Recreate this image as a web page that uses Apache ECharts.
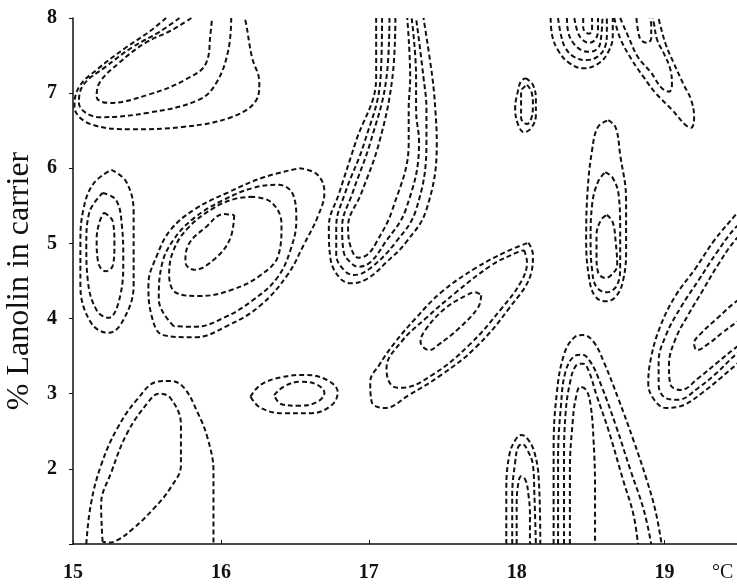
<!DOCTYPE html>
<html>
<head>
<meta charset="utf-8">
<script src="https://cdn.jsdelivr.net/npm/echarts@6/dist/echarts.min.js"></script>
<style>
  html, body { margin: 0; padding: 0; background: #ffffff; }
  #chart { width: 737px; height: 585px; }
</style>
</head>
<body>
<div id="chart"></div>
<script>
// Axis ticks
const tempTicks = [15, 16, 17, 18, 19];
const lanolinTicks = [2, 3, 4, 5, 6, 7, 8];

// Contour lines: [temperature °C, % lanolin]
// Upper-left nested loops (open at the top edge)
const ulOuter = [[15.63,8.0],[15.51,7.81],[15.36,7.61],[15.16,7.31],[15.04,7.08],[15.01,6.82],[15.13,6.58],[15.40,6.52],[15.74,6.55],[16.07,6.68],[16.24,6.91],[16.26,7.14],[16.21,7.48],[16.17,7.93],[16.16,8.0]];
const ulMiddle = [[15.72,8.0],[15.58,7.81],[15.40,7.61],[15.22,7.35],[15.07,7.11],[15.04,6.87],[15.18,6.68],[15.51,6.74],[15.85,6.91],[15.97,7.14],[16.05,7.57],[16.07,8.0]];
const ulInner = [[15.80,8.0],[15.67,7.84],[15.49,7.67],[15.31,7.40],[15.18,7.14],[15.16,6.95],[15.24,6.87],[15.51,6.98],[15.76,7.18],[15.90,7.40],[15.93,7.80],[15.94,8.0]];

// Left upright ellipses
const leftOuter = [[15.26,5.98],[15.36,5.82],[15.41,5.41],[15.41,4.91],[15.41,4.45],[15.34,3.98],[15.24,3.81],[15.12,3.95],[15.05,4.45],[15.05,4.98],[15.07,5.45],[15.14,5.80]];
const leftMiddle = [[15.20,5.67],[15.29,5.58],[15.33,5.25],[15.34,4.78],[15.32,4.31],[15.24,4.01],[15.16,4.11],[15.10,4.51],[15.09,4.98],[15.11,5.41]];
const leftInner = [[15.21,5.41],[15.27,5.29],[15.28,4.98],[15.27,4.71],[15.22,4.63],[15.17,4.75],[15.16,5.05],[15.18,5.29]];

// Tilted rings around 16 °C / 5 %
const midRing1 = [[16.53,6.00],[16.65,5.92],[16.70,5.68],[16.66,5.38],[16.56,4.98],[16.45,4.58],[16.27,4.18],[16.05,3.91],[15.82,3.75],[15.61,3.78],[15.53,4.05],[15.51,4.45],[15.57,4.85],[15.66,5.18],[15.82,5.45],[16.05,5.68],[16.29,5.88]];
const midRing2 = [[15.68,3.90],[15.58,4.25],[15.60,4.71],[15.68,5.05],[15.82,5.34],[16.02,5.58],[16.22,5.74],[16.39,5.78],[16.49,5.64],[16.51,5.31],[16.47,4.91],[16.38,4.54],[16.22,4.25],[16.02,4.01],[15.82,3.89]];
const midRing3 = [[16.20,5.62],[16.34,5.55],[16.41,5.25],[16.39,4.85],[16.27,4.58],[16.07,4.38],[15.85,4.30],[15.70,4.34],[15.65,4.58],[15.68,4.91],[15.78,5.21],[15.95,5.47],[16.09,5.59]];
const midRing4 = [[16.09,5.38],[16.06,5.05],[15.95,4.78],[15.82,4.65],[15.76,4.75],[15.78,4.98],[15.90,5.22],[16.02,5.39]];

// Curved band rising from 17 °C to the top edge
const bandD1 = [[17.05,8.0],[17.05,7.21],[16.91,6.34],[16.80,5.67],[16.73,5.22],[16.74,4.81],[16.80,4.55],[16.88,4.47],[16.99,4.53],[17.12,4.75],[17.25,5.01],[17.39,5.45],[17.46,6.34],[17.45,6.78],[17.43,7.21],[17.37,8.0]];
const bandD2 = [[17.09,8.0],[17.08,7.21],[16.97,6.34],[16.84,5.67],[16.78,5.22],[16.78,4.85],[16.83,4.65],[16.90,4.58],[17.01,4.67],[17.18,5.01],[17.32,5.45],[17.39,6.34],[17.39,6.78],[17.37,7.21],[17.32,8.0]];
const bandD3 = [[17.14,8.0],[17.12,7.21],[17.01,6.34],[16.89,5.67],[16.82,5.22],[16.83,4.89],[16.88,4.74],[16.93,4.69],[17.01,4.75],[17.11,5.01],[17.25,5.45],[17.34,6.34],[17.32,6.78],[17.32,7.21],[17.29,8.0]];
const bandD4 = [[17.18,8.0],[17.16,7.21],[17.07,6.34],[16.95,5.67],[16.86,5.22],[16.88,4.94],[16.93,4.81],[16.99,4.85],[17.05,5.01],[17.16,5.45],[17.27,6.34],[17.27,6.78],[17.28,7.21],[17.26,8.0]];

// Small ellipses near 18 °C / 7 %
const smallOuter = [[18.06,7.20],[18.11,7.11],[18.13,6.91],[18.13,6.71],[18.10,6.54],[18.05,6.48],[18.01,6.58],[17.99,6.80],[18.01,7.04],[18.03,7.16]];
const smallInner = [[18.07,7.11],[18.10,7.02],[18.11,6.84],[18.10,6.67],[18.07,6.59],[18.03,6.67],[18.03,6.84],[18.03,7.02]];

// Bowl of rings at the top edge, 18.2–18.7 °C
const bowl1 = [[18.23,8.0],[18.24,7.77],[18.28,7.57],[18.35,7.41],[18.45,7.33],[18.55,7.39],[18.62,7.55],[18.65,7.77],[18.65,8.0]];
const bowl2 = [[18.28,8.0],[18.30,7.77],[18.33,7.60],[18.39,7.48],[18.47,7.44],[18.55,7.49],[18.60,7.63],[18.61,7.81],[18.61,8.0]];
const bowl3 = [[18.34,8.0],[18.35,7.80],[18.39,7.65],[18.44,7.57],[18.49,7.55],[18.55,7.60],[18.57,7.73],[18.58,8.0]];
const bowl4 = [[18.39,8.0],[18.41,7.83],[18.44,7.72],[18.49,7.67],[18.53,7.71],[18.55,7.83],[18.55,8.0]];
const bowl5 = [[18.45,8.0],[18.45,7.87],[18.49,7.79],[18.51,7.84],[18.51,8.0]];

// Hooks descending to the right of the bowl
const hookF1 = [[18.66,8.0],[18.70,7.73],[18.78,7.44],[18.86,7.21],[18.94,7.00],[19.05,6.78],[19.14,6.58],[19.18,6.54],[19.20,6.67],[19.18,6.91],[19.13,7.11],[19.06,7.41],[19.01,7.64],[18.97,7.91],[18.96,8.0]];
const hookF2 = [[18.70,8.0],[18.76,7.73],[18.82,7.48],[18.91,7.27],[18.98,7.07],[19.03,7.02],[19.05,7.11],[19.04,7.31],[19.00,7.51],[18.95,7.71],[18.93,7.91],[18.92,8.0]];
const hookF3 = [[18.81,8.0],[18.82,7.84],[18.84,7.71],[18.88,7.67],[18.91,7.73],[18.91,7.91],[18.90,8.0]];

// Upright ellipses near 18.6 °C / 5 %
const uprightH1 = [[18.62,6.64],[18.67,6.54],[18.70,6.18],[18.74,5.58],[18.74,4.91],[18.72,4.51],[18.67,4.29],[18.60,4.23],[18.53,4.30],[18.49,4.54],[18.47,5.05],[18.48,5.71],[18.51,6.24],[18.55,6.55]];
const uprightH2 = [[18.60,5.95],[18.65,5.87],[18.69,5.64],[18.70,5.18],[18.70,4.71],[18.68,4.45],[18.61,4.35],[18.54,4.42],[18.51,4.65],[18.50,5.05],[18.51,5.51],[18.55,5.82]];
const uprightH3 = [[18.61,5.38],[18.65,5.28],[18.67,5.01],[18.68,4.71],[18.64,4.58],[18.60,4.54],[18.55,4.62],[18.54,4.85],[18.54,5.11],[18.57,5.31]];

// Band entering from the right edge
const rightI1 = [[19.55,5.55],[19.48,5.38],[19.34,5.05],[19.21,4.67],[19.07,4.29],[18.97,3.89],[18.91,3.49],[18.89,3.14],[18.93,2.92],[19.01,2.81],[19.13,2.85],[19.26,3.02],[19.38,3.21],[19.48,3.38],[19.55,3.50]];
const rightI2 = [[19.55,5.30],[19.48,5.21],[19.35,4.87],[19.23,4.51],[19.11,4.15],[19.01,3.78],[18.96,3.42],[18.96,3.12],[19.01,2.94],[19.09,2.92],[19.23,3.08],[19.36,3.29],[19.48,3.52],[19.55,3.62]];
const rightI3 = [[19.55,5.15],[19.48,5.05],[19.36,4.71],[19.26,4.38],[19.16,4.05],[19.07,3.71],[19.03,3.38],[19.04,3.12],[19.11,3.05],[19.23,3.21],[19.36,3.42],[19.48,3.61],[19.55,3.70]];
const rightI4 = [[19.55,4.30],[19.48,4.22],[19.36,4.01],[19.25,3.81],[19.20,3.67],[19.22,3.58],[19.30,3.67],[19.39,3.81],[19.48,3.94],[19.55,4.03]];

// Diagonal ellipses between 17 and 18 °C
const diagJ1 = [[18.08,5.01],[18.11,4.85],[18.10,4.62],[17.95,4.14],[17.72,3.61],[17.49,3.25],[17.27,2.98],[17.11,2.81],[17.02,2.89],[17.01,3.16],[17.07,3.38],[17.18,3.69],[17.32,4.01],[17.49,4.35],[17.72,4.67],[17.93,4.89]];
const diagJ2 = [[18.05,4.91],[18.07,4.75],[18.03,4.49],[17.90,4.14],[17.68,3.65],[17.43,3.25],[17.22,3.08],[17.15,3.12],[17.12,3.34],[17.22,3.69],[17.39,4.01],[17.59,4.35],[17.83,4.71],[17.99,4.87]];
const diagJ3 = [[17.76,4.31],[17.74,4.15],[17.61,3.87],[17.47,3.65],[17.41,3.58],[17.35,3.69],[17.39,3.87],[17.52,4.14],[17.66,4.31],[17.72,4.35]];

// Flat ellipses near 16.5 °C / 3 %
const flatK1 = [[16.20,2.96],[16.27,3.12],[16.41,3.22],[16.57,3.25],[16.72,3.18],[16.79,3.02],[16.75,2.85],[16.61,2.74],[16.43,2.74],[16.27,2.81]];
const flatK2 = [[16.36,2.98],[16.43,3.10],[16.54,3.16],[16.65,3.12],[16.70,3.01],[16.65,2.89],[16.53,2.84],[16.41,2.86]];

// Lower-left arch and loop
const lowLeftArch = [[15.09,1.0],[15.12,1.52],[15.19,2.05],[15.30,2.54],[15.44,2.94],[15.57,3.16],[15.66,3.17],[15.75,3.08],[15.84,2.76],[15.91,2.41],[15.95,1.96],[15.95,1.0]];
const lowLeftLoop = [[15.20,1.03],[15.19,1.52],[15.26,1.96],[15.37,2.49],[15.51,2.89],[15.58,3.00],[15.66,2.94],[15.73,2.58],[15.73,2.05],[15.66,1.75],[15.55,1.48],[15.41,1.21],[15.30,1.05],[15.24,1.02]];

// Narrow arches rising from the base at 18 °C
const archM1 = [[17.93,1.0],[17.93,1.72],[17.95,2.18],[17.99,2.38],[18.03,2.45],[18.07,2.41],[18.12,2.22],[18.15,1.85],[18.16,1.0]];
const archM2 = [[17.97,1.0],[17.97,1.65],[17.99,2.09],[18.01,2.29],[18.04,2.33],[18.07,2.26],[18.11,2.05],[18.12,1.65],[18.13,1.0]];
const archM3 = [[18.00,1.0],[18.00,1.52],[18.01,1.79],[18.03,1.90],[18.06,1.85],[18.08,1.65],[18.09,1.39],[18.09,1.0]];

// Tall arches between 18.2 and 19 °C
const archN1 = [[18.25,1.0],[18.25,2.25],[18.27,2.98],[18.32,3.52],[18.39,3.75],[18.45,3.78],[18.52,3.69],[18.59,3.42],[18.69,2.92],[18.79,2.38],[18.88,1.85],[18.94,1.43],[18.98,1.0]];
const archN2 = [[18.28,1.0],[18.28,2.12],[18.30,2.85],[18.33,3.29],[18.39,3.50],[18.44,3.52],[18.50,3.42],[18.57,3.12],[18.67,2.58],[18.77,1.98],[18.86,1.45],[18.91,1.0]];
const archN3 = [[18.32,1.0],[18.32,2.05],[18.33,2.72],[18.36,3.14],[18.40,3.37],[18.45,3.40],[18.49,3.29],[18.54,2.98],[18.62,2.52],[18.72,1.85],[18.79,1.39],[18.82,1.0]];
const archN4 = [[18.36,1.0],[18.36,1.98],[18.38,2.65],[18.40,2.94],[18.43,3.09],[18.47,3.05],[18.50,2.85],[18.52,2.38],[18.53,1.72],[18.53,1.0]];

const closedLoops = [leftOuter, leftMiddle, leftInner, midRing1, midRing2, midRing3, midRing4,
  smallOuter, smallInner, uprightH1, uprightH2, uprightH3, diagJ1, diagJ2, diagJ3, flatK1, flatK2, lowLeftLoop];
const openCurves = [ulOuter, ulMiddle, ulInner, bandD1, bandD2, bandD3, bandD4,
  bowl1, bowl2, bowl3, bowl4, bowl5, hookF1, hookF2, hookF3,
  rightI1, rightI2, rightI3, rightI4, lowLeftArch,
  archM1, archM2, archM3, archN1, archN2, archN3, archN4];

const ink = '#111111';
const serif = '"Liberation Serif", "Times New Roman", serif';

function contourSeries(points, closed) {
  return {
    type: 'line',
    data: closed ? points.concat([points[0]]) : points,
    smooth: 0.4,
    symbol: 'none',
    silent: true,
    clip: true,
    lineStyle: { color: ink, width: 2, type: [5, 3] }
  };
}

const series = closedLoops.map(p => contourSeries(p, true))
  .concat(openCurves.map(p => contourSeries(p, false)));

const chart = echarts.init(document.getElementById('chart'), null, { renderer: 'canvas' });
chart.setOption({
  animation: false,
  backgroundColor: '#ffffff',
  grid: { left: 73, right: 0, top: 18, bottom: 41, containLabel: false, outerBoundsMode: 'none' },
  xAxis: {
    type: 'value',
    min: tempTicks[0],
    max: 19.49,
    interval: 1,
    splitLine: { show: false },
    axisLine: { show: true, onZero: false, lineStyle: { color: ink, width: 1.5 } },
    axisTick: { show: true, inside: true, length: 4, lineStyle: { color: ink } },
    axisLabel: {
      margin: 19,
      color: ink,
      fontFamily: serif,
      fontSize: 20,
      fontWeight: 'bold',
      formatter: v => tempTicks.includes(v) ? String(v) : ''
    }
  },
  yAxis: {
    type: 'value',
    min: 1,
    max: lanolinTicks[lanolinTicks.length - 1],
    interval: 1,
    splitLine: { show: false },
    axisLine: { show: true, onZero: false, lineStyle: { color: ink, width: 1.5 } },
    axisTick: { show: true, length: 4, lineStyle: { color: ink } },
    axisLabel: {
      margin: 16,
      color: ink,
      fontFamily: serif,
      fontSize: 20,
      fontWeight: 'bold',
      formatter: v => lanolinTicks.includes(v) ? String(v) : ''
    },
    name: '% Lanolin in carrier',
    nameLocation: 'middle',
    nameRotate: 90,
    nameGap: 37,
    nameTextStyle: { color: ink, fontFamily: serif, fontSize: 32 }
  },
  graphic: [{
    type: 'text',
    left: 712,
    top: 563,
    style: { text: '°C', fill: ink, font: '20px "Liberation Serif", serif' }
  }],
  series: series
});
</script>
</body>
</html>
